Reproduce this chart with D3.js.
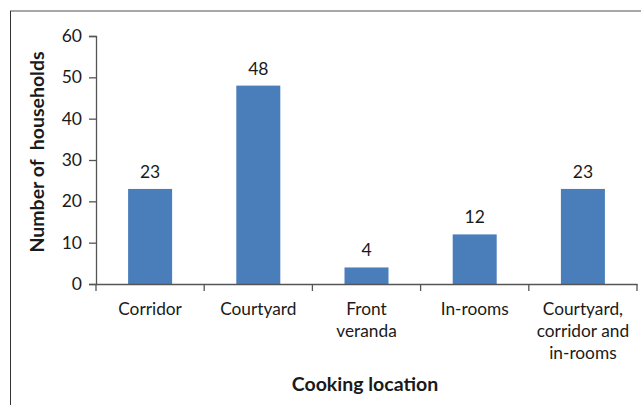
<!DOCTYPE html>
<html>
<head>
<meta charset="utf-8">
<script src="https://cdn.jsdelivr.net/npm/d3@7"></script>
<style>
  body { margin: 0; background: #fff; }
  svg text { font-family: Lato, "Open Sans", sans-serif; fill: #1a1a1a; }
</style>
</head>
<body>
<div id="chart"></div>
<script>
// Data
const categories = ["Corridor", "Courtyard", "Front veranda", "In-rooms", "Courtyard, corridor and in-rooms"];
const categoryLines = [["Corridor"], ["Courtyard"], ["Front", "veranda"], ["In-rooms"], ["Courtyard,", "corridor and", "in-rooms"]];
const households = [23, 48, 4, 12, 23];
const yTicks = [0, 10, 20, 30, 40, 50, 60];

const W = 641, H = 405;
const svg = d3.select("#chart").append("svg")
    .attr("width", W)
    .attr("height", H);

// Outer frame (top and left edges visible)
svg.append("line")
    .attr("x1", 10).attr("x2", W).attr("y1", 11).attr("y2", 11)
    .attr("stroke", "#8a8a8a").attr("stroke-width", 1.5);
svg.append("line")
    .attr("x1", 10.5).attr("x2", 10.5).attr("y1", 11).attr("y2", H)
    .attr("stroke", "#333").attr("stroke-width", 1);

const x = d3.scaleBand()
    .domain(categories)
    .range([96, 637]);

const y = d3.scaleLinear()
    .domain([0, 60])
    .range([284, 36]);

const barWidth = 44;

// Bars
svg.selectAll("rect.bar")
    .data(households)
    .join("rect")
    .attr("class", "bar")
    .attr("x", (d, i) => x(categories[i]) + x.bandwidth() / 2 - barWidth / 2)
    .attr("y", d => y(d))
    .attr("width", barWidth)
    .attr("height", d => y(0) - y(d))
    .attr("fill", "#4a7ebb");

// Value labels
svg.selectAll("text.value")
    .data(households)
    .join("text")
    .attr("class", "value")
    .attr("x", (d, i) => x(categories[i]) + x.bandwidth() / 2)
    .attr("y", d => y(d) - 11)
    .attr("text-anchor", "middle")
    .attr("font-size", "17.5px")
    .text(d => d);

// Y axis
const yAxis = svg.append("g")
    .attr("transform", "translate(96,0)")
    .call(d3.axisLeft(y).tickValues(yTicks).tickSize(7).tickPadding(7));
yAxis.select(".domain").attr("stroke", "#555").attr("stroke-width", 1.3);
yAxis.selectAll(".tick line").attr("stroke", "#555").attr("stroke-width", 1.3);
yAxis.selectAll(".tick text")
    .attr("font-size", "17.5px")
    .style("font-family", "Lato, sans-serif")
    .attr("fill", "#1a1a1a");

// X axis
const xAxis = svg.append("g")
    .attr("transform", "translate(0,284)")
    .call(d3.axisBottom(x).tickSize(0).tickFormat(""));
xAxis.select(".domain").attr("stroke", "#555").attr("stroke-width", 1.3);

// Category boundary ticks
const edges = categories.map(c => x(c)).concat([x.range()[1]]);
svg.selectAll("line.xtick")
    .data(edges)
    .join("line")
    .attr("class", "xtick")
    .attr("x1", d => d).attr("x2", d => d)
    .attr("y1", 284).attr("y2", 291)
    .attr("stroke", "#555").attr("stroke-width", 1.3);

// Category labels
categoryLines.forEach((lines, i) => {
    const t = svg.append("text")
        .attr("x", x(categories[i]) + x.bandwidth() / 2)
        .attr("y", 315)
        .attr("text-anchor", "middle")
        .attr("font-size", "17.3px");
    lines.forEach((ln, j) => {
        t.append("tspan")
            .attr("x", x(categories[i]) + x.bandwidth() / 2)
            .attr("dy", j === 0 ? 0 : 22)
            .text(ln);
    });
});

// Axis titles
svg.append("text")
    .attr("x", 365)
    .attr("y", 391)
    .attr("text-anchor", "middle")
    .attr("font-size", "19.5px")
    .attr("font-weight", "bold")
    .text("Cooking location");

svg.append("text")
    .attr("transform", "translate(44,152) rotate(-90)")
    .attr("text-anchor", "middle")
    .attr("font-size", "19.5px")
    .attr("font-weight", "bold")
    .style("white-space", "pre")
    .text("Number of  households");
</script>
</body>
</html>
